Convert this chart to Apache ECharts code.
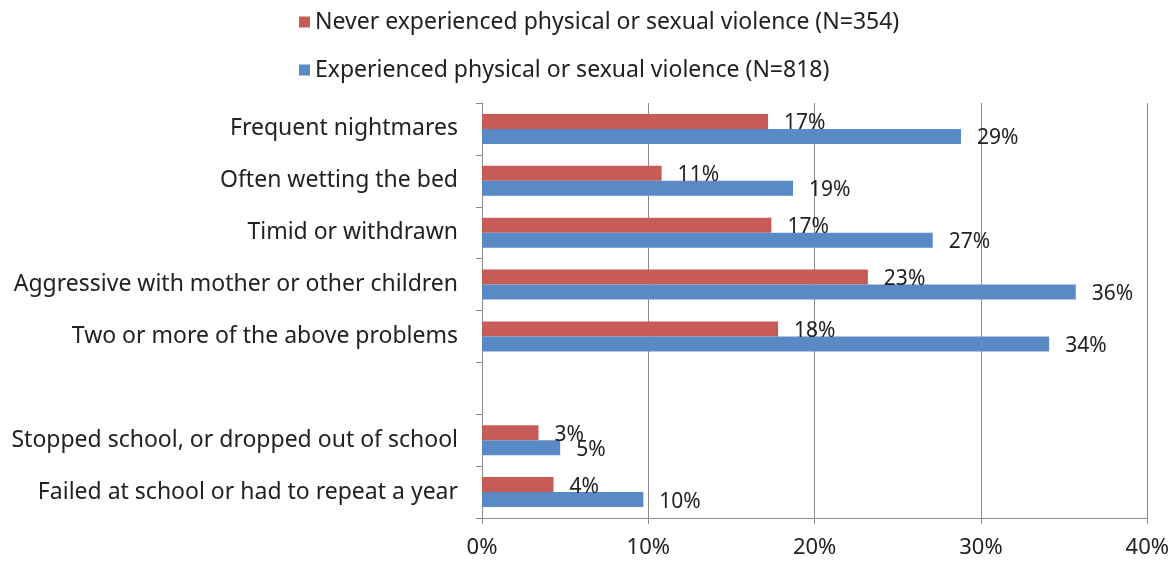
<!DOCTYPE html>
<html>
<head>
<meta charset="utf-8">
<script src="https://cdn.jsdelivr.net/npm/echarts@6/dist/echarts.min.js"></script>
<style>
html,body{margin:0;padding:0;background:#fff;}
#chart{width:1172px;height:566px;}
</style>
</head>
<body>
<div id="chart"></div>
<script>
var categories = [
  'Frequent nightmares',
  'Often wetting the bed',
  'Timid or withdrawn',
  'Aggressive with mother or other children',
  'Two or more of the above problems',
  '',
  'Stopped school, or dropped out of school',
  'Failed at school or had to repeat a year'
];
var seriesNames = [
  'Never experienced physical or sexual violence (N=354)',
  'Experienced physical or sexual violence (N=818)'
];
var neverValues = [17.2, 10.8, 17.4, 23.2, 17.8, null, 3.4, 4.3];
var experiencedValues = [28.8, 18.7, 27.1, 35.7, 34.1, null, 4.7, 9.7];
var xTicks = { min: 0, max: 40, interval: 10 };

var FONT = 'Noto Sans';
var chart = echarts.init(document.getElementById('chart'));
var labelCfg = {
  show: true,
  position: 'right',
  distance: 16,
  color: '#222',
  fontFamily: FONT,
  fontSize: 21,
  offset: [0, 2],
  formatter: function (p) { return Math.round(p.value) + '%'; }
};
chart.setOption({
  animation: false,
  backgroundColor: '#fff',
  legend: {
    orient: 'vertical',
    left: 294,
    top: 4,
    itemWidth: 11,
    itemHeight: 11,
    itemGap: 22,
    icon: 'rect',
    textStyle: { fontFamily: FONT, fontSize: 23, lineHeight: 26, color: '#222', padding: [0, 0, 0, 0] },
    data: seriesNames
  },
  grid: { left: 482, right: 23, top: 103, bottom: 48, containLabel: false },
  xAxis: {
    type: 'value',
    min: xTicks.min,
    max: xTicks.max,
    interval: xTicks.interval,
    axisLine: { show: true, lineStyle: { color: '#8c8c8c', width: 1 } },
    axisTick: { show: true, length: 6, lineStyle: { color: '#8c8c8c' } },
    splitLine: { show: true, lineStyle: { color: '#8c8c8c', width: 1 } },
    axisLabel: {
      formatter: '{value}%',
      fontFamily: FONT,
      fontSize: 22,
      color: '#222',
      margin: 19
    }
  },
  yAxis: {
    type: 'category',
    inverse: true,
    data: categories,
    axisLine: { show: true, lineStyle: { color: '#8c8c8c', width: 1 } },
    axisTick: { show: true, length: 6, lineStyle: { color: '#8c8c8c' } },
    axisLabel: {
      fontFamily: FONT,
      fontSize: 23,
      color: '#222',
      margin: 24
    }
  },
  series: [
    {
      name: seriesNames[0],
      type: 'bar',
      data: neverValues,
      itemStyle: { color: '#C65B57' },
      barGap: '0%',
      barCategoryGap: '42%',
      label: labelCfg
    },
    {
      name: seriesNames[1],
      type: 'bar',
      data: experiencedValues,
      itemStyle: { color: '#5A8AC6' },
      barGap: '0%',
      barCategoryGap: '42%',
      label: labelCfg
    }
  ]
});
</script>
</body>
</html>
